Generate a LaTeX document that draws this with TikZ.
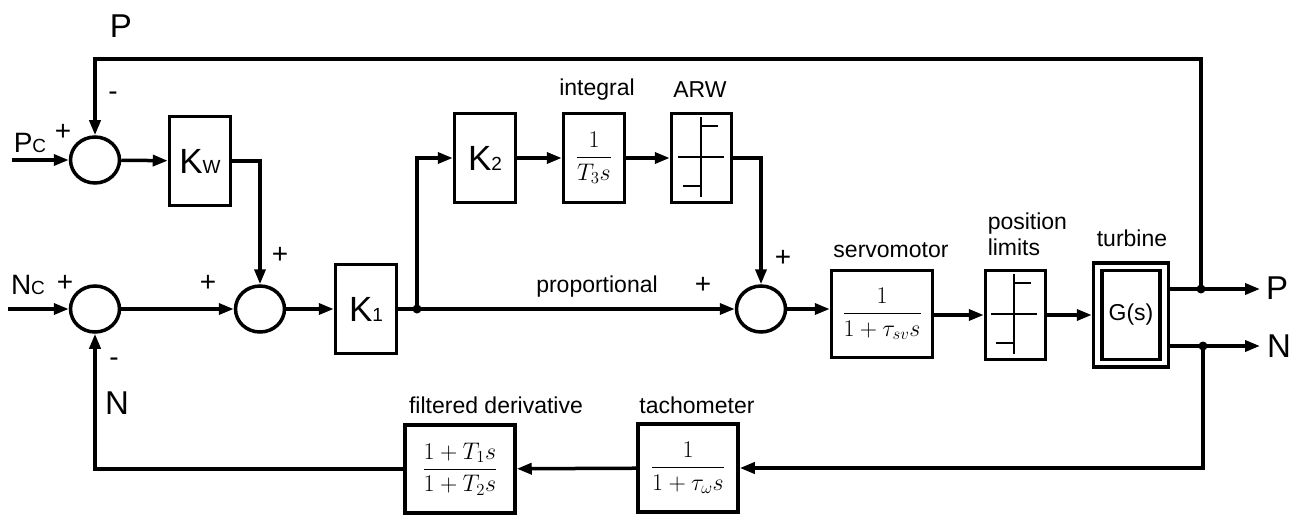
\RequirePackage{fix-cm}
\documentclass[tikz,border=0pt]{standalone}
\usepackage{amsmath}
\usepackage[no-math]{fontspec}
\usepackage{tikz}
\usetikzlibrary{arrows.meta, shapes.geometric}
\newfontfamily\lblfont{Liberation Sans}
\newcommand{\subtxt}[1]{{\fontsize{19}{19}\selectfont #1}}

\begin{document}
\begin{tikzpicture}[
    x=1pt,
    y=-1pt,
    line width=3.5pt,
    block/.style={draw, line width=3.5pt, inner sep=0pt, minimum width=61pt, minimum height=89pt},
    sum/.style={draw, ellipse, line width=3.5pt, inner sep=0pt, minimum width=49pt, minimum height=46pt},
    arrow/.style={-{Triangle[length=15pt, width=11pt]}, line width=3.5pt},
    wire/.style={line width=3.5pt},
    gain/.style={font=\lblfont\fontsize{35}{38}\selectfont},
    tf/.style={font=\fontsize{24}{29}\selectfont},
    lbl/.style={font=\lblfont\fontsize{23}{26}\selectfont, inner sep=0pt},
    sig/.style={font=\lblfont\fontsize{33}{36}\selectfont, inner sep=0pt},
    sgn/.style={font=\lblfont\fontsize{28}{30}\selectfont, inner sep=0pt},
    limiter/.pic={
        \draw[line width=2.2pt] (0,-40) -- (0,40);
        \draw[line width=2.2pt] (-23,0) -- (23,0);
        \draw[line width=2.2pt] (0,-31) -- (17,-31);
        \draw[line width=2.2pt] (-18,29) -- (0,29);
    }
]
\useasboundingbox (0,0) rectangle (1297,516);
% summing junctions
\node[sum] (sumP) at (95,160) {};
\node[sum] (sumN) at (95,309) {};
\node[sum] (sumI) at (260,309) {};
\node[sum] (sumC) at (761,309) {};
% blocks
\node[block, gain] (kw) at (200,161) {K\subtxt{W}};
\node[block, gain] (k1) at (366,309) {K\subtxt{1}};
\node[block, gain] (k2) at (485,158) {K\subtxt{2}};
\node[block, tf] (integ) at (594,158) {$\dfrac{1}{T_3 s}$};
\node[block, minimum width=60pt] (arw) at (701.5,158) {};
\pic at (701,157) {limiter};
\node[block, tf, minimum width=101pt, minimum height=87pt] (servo) at (882,314) {$\dfrac{1}{1+\tau_{sv}s}$};
\node[block, minimum width=60pt] (limits) at (1015.5,315) {};
\pic at (1014,314) {limiter};
\node[block, minimum width=75pt, minimum height=104pt] (turbine) at (1131,315) {};
\node[block, lbl, minimum width=58pt, minimum height=89pt] (plant) at (1131,315) {G(s)};
\node[block, tf, minimum width=100pt, minimum height=88pt] (tach) at (688,468) {$\dfrac{1}{1+\tau_{\omega}s}$};
\node[block, tf, minimum width=110pt, minimum height=88pt] (fd) at (460,469) {$\dfrac{1+T_1 s}{1+T_2 s}$};
% labels
\node[lbl] (intlbl) at (597,90) {integral};
\node[lbl] (arwlbl) at (700,90) {ARW};
\node[lbl] (proplbl) at (597,287) {proportional};
\node[lbl] (servolbl) at (891,250) {servomotor};
\node[lbl, anchor=west, align=left] (limlbl) at (986,234) {position\\limits};
\node[lbl] (turblbl) at (1132,238) {turbine};
\node[lbl] (fdlbl) at (496,405) {filtered derivative};
\node[lbl] (tachlbl) at (697,405) {tachometer};
\node[sig] (ptop) at (121,26) {P};
\node[sig] (nbot) at (117,403) {N};
\node[sig] (pout) at (1277,288) {P};
\node[sig] (nout) at (1279,346) {N};
\node[sig, font=\lblfont\fontsize{28}{30}\selectfont] (pcl) at (30,143) {P\subtxt{C}};
\node[sig, font=\lblfont\fontsize{28}{30}\selectfont] (ncl) at (28,285) {N\subtxt{C}};
\node[sgn] (sgnPc) at (63,132) {+};
\node[sgn] (sgnPf) at (113,96) {-};
\node[sgn] (sgnNc) at (65,283) {+};
\node[sgn] (sgnNf) at (114,362) {-};
\node[sgn] (sgnIa) at (208,283) {+};
\node[sgn] (sgnIb) at (280,255) {+};
\node[sgn] (sgnCa) at (703,285) {+};
\node[sgn] (sgnCb) at (783,258) {+};
% junction points
\coordinate (pcin) at (12,160);
\coordinate (ncin) at (8,309);
\coordinate (branch) at (417,309);
\coordinate (pdot) at (1201,289);
\coordinate (ndot) at (1203,346);
\coordinate (ptip) at (1260,289);
\coordinate (ntip) at (1260,346);
\coordinate (ptopr) at (1201,59);
% connections
\draw[arrow] (pcin) -- (sumP);
\draw[arrow] (sumP) -- (kw);
\draw[arrow] (kw.east) -| (sumI.north);
\draw[arrow] (ncin) -- (sumN);
\draw[arrow] (sumN) -- (sumI);
\draw[arrow] (sumI) -- (k1);
\draw[wire] (k1.east) -- (branch);
\draw[arrow] (branch) |- (k2.west);
\draw[arrow] (branch) -- (sumC);
\draw[arrow] (k2) -- (integ);
\draw[arrow] (integ) -- (arw);
\draw[arrow] (arw.east) -| (sumC.north);
\draw[arrow] (sumC.east) -- (sumC.east -| servo.west);
\draw[arrow] (servo.east |- limits.west) -- (limits.west);
\draw[arrow] (limits) -- (turbine);
\draw[arrow] (turbine.east |- pdot) -- (ptip);
\draw[arrow] (turbine.east |- ndot) -- (ntip);
\draw[arrow] (pdot) -- (ptopr) -| (sumP.north);
\draw[arrow] (ndot) |- (tach.east);
\draw[arrow] (tach) -- (fd);
\draw[arrow] (fd.west) -| (sumN.south);
\fill (branch) circle (4.5);
\fill (pdot) circle (4.5);
\fill (ndot) circle (4.5);
\end{tikzpicture}
\end{document}
